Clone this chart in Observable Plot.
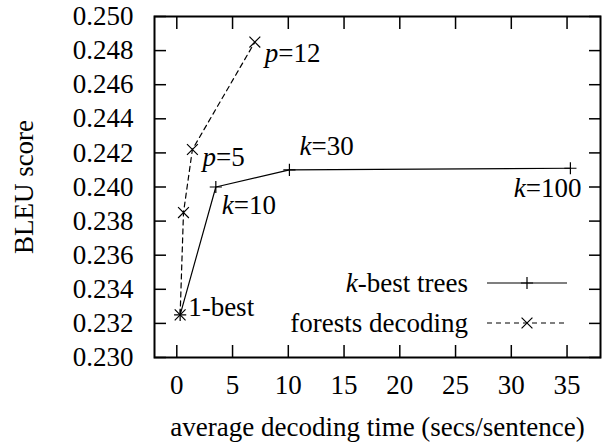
<!DOCTYPE html>
<html>
<head>
<meta charset="utf-8">
<script src="https://cdn.jsdelivr.net/npm/d3@7"></script>
<script src="https://cdn.jsdelivr.net/npm/@observablehq/plot@0.6"></script>
<style>
  body { margin: 0; background: #fff; }
  #chart { width: 602px; height: 442px; }
</style>
</head>
<body>
<div id="chart"></div>
<script>
// ---- data ----
const kbestTime = [0.3, 3.5, 10.1, 35.3];
const kbestBleu = [0.2325, 0.2400, 0.2410, 0.2411];
const kbestLabels = ["1-best", "k=10", "k=30", "k=100"];

const forestTime = [0.3, 0.6, 1.4, 7.0];
const forestBleu = [0.2325, 0.2385, 0.2422, 0.2485];
const forestLabels = ["", "", "p=5", "p=12"];

const xTicks = [0, 5, 10, 15, 20, 25, 30, 35];
const yTicks = [0.230, 0.232, 0.234, 0.236, 0.238, 0.240, 0.242, 0.244, 0.246, 0.248, 0.250];

const seriesNames = ["k-best trees", "forests decoding"];

const kbest = kbestTime.map((t, i) => ({time: t, bleu: kbestBleu[i], label: kbestLabels[i]}));
const forest = forestTime.map((t, i) => ({time: t, bleu: forestBleu[i], label: forestLabels[i]}));

const FONT = "'Liberation Serif', 'Times New Roman', serif";

const textAt = (data, idx, opts) => Plot.text(data.filter((d, i) => i === idx), {
  x: "time", y: "bleu", text: "label", fill: "black", ...opts
});

const plot = Plot.plot({
  width: 602,
  height: 442,
  marginLeft: 154,
  marginRight: 2,
  marginTop: 16,
  marginBottom: 85,
  style: {fontFamily: FONT, fontSize: "27px", background: "white", color: "black"},
  x: {domain: [-2, 38]},
  y: {domain: [0.230, 0.250]},
  marks: [
    Plot.axisX(xTicks, {anchor: "bottom", tickSize: -12, tickPadding: 29, strokeWidth: 1.5,
      label: "average decoding time (secs/sentence)", labelAnchor: "center", labelArrow: "none", labelOffset: 78}),
    Plot.axisX(xTicks, {anchor: "top", tickSize: -12, strokeWidth: 1.5, tickFormat: () => "", label: null}),
    Plot.axisY(yTicks, {anchor: "left", tickSize: -12, tickPadding: 33, strokeWidth: 1.5, tickFormat: d3.format(".3f"),
      label: "BLEU score", labelAnchor: "center", labelArrow: "none", labelOffset: 141}),
    Plot.axisY(yTicks, {anchor: "right", tickSize: -12, strokeWidth: 1.5, tickFormat: () => "", label: null}),
    Plot.frame({stroke: "black", strokeWidth: 2}),
    Plot.line(kbest, {x: "time", y: "bleu", stroke: "black", strokeWidth: 1.2}),
    Plot.line(forest, {x: "time", y: "bleu", stroke: "black", strokeWidth: 1.2, strokeDasharray: "5,4"}),
    Plot.dot(kbest, {x: "time", y: "bleu", symbol: "plus", r: 4, stroke: "black", strokeWidth: 1.2}),
    Plot.dot(forest, {x: "time", y: "bleu", symbol: "times", r: 5, stroke: "black", strokeWidth: 1.2}),
    textAt(kbest, 0, {textAnchor: "start", dx: 8, dy: -8}),
    textAt(kbest, 1, {textAnchor: "start", dx: 6, dy: 18}),
    textAt(kbest, 2, {textAnchor: "start", dx: 10, dy: -24}),
    textAt(kbest, 3, {textAnchor: "end", dx: 11, dy: 20}),
    textAt(forest, 2, {textAnchor: "start", dx: 10, dy: 8}),
    textAt(forest, 3, {textAnchor: "start", dx: 10, dy: 11})
  ]
});

document.getElementById("chart").appendChild(plot);

// ---- legend (inside plot, bottom-right) ----
const svg = d3.select(plot);
const legend = svg.append("g").attr("font-family", FONT).attr("font-size", 27);
const rows = [
  {name: seriesNames[0], dash: null, symbol: d3.symbolPlus, size: Math.PI * 16, y: 283},
  {name: seriesNames[1], dash: "5,4", symbol: d3.symbolTimes, size: Math.PI * 25, y: 323}
];
rows.forEach(r => {
  legend.append("text").attr("x", 468).attr("y", r.y).attr("dy", "0.32em")
    .attr("text-anchor", "end").attr("fill", "black").text(r.name);
  legend.append("line").attr("x1", 487).attr("x2", 567).attr("y1", r.y).attr("y2", r.y)
    .attr("stroke", "black").attr("stroke-width", 1.2).attr("stroke-dasharray", r.dash);
  legend.append("path").attr("transform", `translate(527,${r.y})`)
    .attr("d", d3.symbol(r.symbol, r.size)()).attr("fill", "none").attr("stroke", "black").attr("stroke-width", 1.2);
});

// ---- italicise the variable letters k and p ----
svg.selectAll("text").each(function () {
  if (this.querySelector("tspan")) return;
  const s = this.textContent;
  const m = /^([kp])([=\-].*)$/.exec(s);
  if (!m) return;
  const sel = d3.select(this);
  sel.text(null);
  sel.append("tspan").attr("font-style", "italic").text(m[1]);
  sel.append("tspan").text(m[2]);
});
</script>
</body>
</html>
